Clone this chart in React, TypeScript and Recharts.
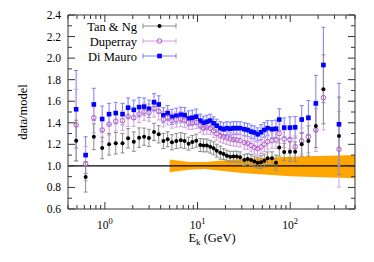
import { ComposedChart, Scatter, Area, XAxis, YAxis, ErrorBar, ReferenceLine } from 'recharts';

// energies (GeV) shared by the three data sets
const ENERGY = [
  0.49, 0.62, 0.76, 0.935, 1.11, 1.31, 1.55, 1.78, 2.05, 2.34, 2.65, 2.99, 3.39, 3.81, 4.28, 4.76, 5.29, 5.9, 6.6,
  7.25, 8.0, 8.77, 9.68, 10.7, 11.6, 12.6, 13.7, 14.9, 16.1, 17.6, 19.1, 20.7, 22.5, 24.4, 26.5, 28.8, 32.0, 34.7,
  37.8, 41.0, 44.5, 48.4, 52.5, 57.0, 63.6, 70.2, 76.2, 86.1, 99.3, 113, 133, 157, 189, 228, 336,
];

const TAN_NG = [
  1.234, 0.897, 1.27, 1.166, 1.2, 1.21, 1.21, 1.256, 1.225, 1.262, 1.271, 1.259, 1.315, 1.293, 1.231, 1.247, 1.219,
  1.231, 1.238, 1.23, 1.206, 1.222, 1.234, 1.194, 1.19, 1.19, 1.178, 1.163, 1.141, 1.123, 1.11, 1.095, 1.085, 1.086,
  1.086, 1.08, 1.055, 1.064, 1.055, 1.04, 1.03, 1.034, 1.048, 1.07, 1.07, 1.03, 1.17, 1.13, 1.132, 1.132, 1.2,
  1.231, 1.37, 1.71, 1.278,
];
const TAN_NG_ERR = [
  0.19, 0.14, 0.12, 0.1, 0.1, 0.1, 0.09, 0.09, 0.09, 0.09, 0.08, 0.08, 0.08, 0.08, 0.07, 0.07, 0.07, 0.07, 0.07, 0.07,
  0.06, 0.06, 0.06, 0.06, 0.06, 0.06, 0.06, 0.06, 0.06, 0.06, 0.05, 0.05, 0.05, 0.05, 0.05, 0.05, 0.05, 0.05, 0.05,
  0.05, 0.05, 0.06, 0.06, 0.06, 0.06, 0.07, 0.08, 0.08, 0.09, 0.09, 0.11, 0.14, 0.2, 0.32, 0.36,
];

const DUPERRAY = [
  1.38, 1.02, 1.447, 1.333, 1.386, 1.414, 1.42, 1.457, 1.447, 1.482, 1.503, 1.494, 1.534, 1.506, 1.432, 1.45, 1.42,
  1.43, 1.435, 1.425, 1.4, 1.4, 1.405, 1.37, 1.35, 1.355, 1.35, 1.325, 1.3, 1.28, 1.27, 1.26, 1.25, 1.245, 1.24,
  1.235, 1.215, 1.21, 1.19, 1.17, 1.16, 1.175, 1.2, 1.225, 1.235, 1.24, 1.3, 1.25, 1.245, 1.178, 1.231, 1.271,
  1.333, 1.633, 1.154,
];
const DUPERRAY_ERR = [
  0.33, 0.16, 0.14, 0.11, 0.1, 0.09, 0.09, 0.09, 0.08, 0.08, 0.08, 0.08, 0.08, 0.08, 0.07, 0.07, 0.07, 0.07, 0.07,
  0.07, 0.06, 0.06, 0.06, 0.06, 0.06, 0.06, 0.06, 0.06, 0.06, 0.06, 0.06, 0.06, 0.06, 0.06, 0.06, 0.06, 0.06, 0.06,
  0.06, 0.06, 0.06, 0.06, 0.07, 0.07, 0.07, 0.08, 0.09, 0.08, 0.09, 0.1, 0.12, 0.15, 0.2, 0.3, 0.35,
];

const DI_MAURO = [
  1.525, 1.1, 1.57, 1.435, 1.48, 1.49, 1.48, 1.54, 1.52, 1.545, 1.55, 1.53, 1.59, 1.57, 1.47, 1.49, 1.455, 1.465,
  1.475, 1.47, 1.44, 1.447, 1.457, 1.42, 1.4, 1.41, 1.42, 1.395, 1.373, 1.35, 1.34, 1.35, 1.345, 1.35, 1.35, 1.35,
  1.34, 1.333, 1.318, 1.31, 1.293, 1.312, 1.333, 1.35, 1.34, 1.345, 1.43, 1.355, 1.355, 1.358, 1.43, 1.447, 1.58,
  1.936, 1.386,
];
const DI_MAURO_ERR = [
  0.36, 0.17, 0.15, 0.12, 0.1, 0.1, 0.1, 0.09, 0.09, 0.09, 0.08, 0.08, 0.08, 0.08, 0.07, 0.07, 0.07, 0.07, 0.07, 0.07,
  0.07, 0.07, 0.07, 0.06, 0.06, 0.06, 0.06, 0.06, 0.06, 0.06, 0.06, 0.06, 0.06, 0.06, 0.06, 0.06, 0.06, 0.06, 0.06,
  0.06, 0.06, 0.07, 0.07, 0.07, 0.08, 0.08, 0.1, 0.09, 0.1, 0.1, 0.13, 0.16, 0.26, 0.35, 0.38,
];

// model uncertainty band
const BAND_E = [5, 8, 12, 30, 100, 500];
const BAND_LO = [0.94, 0.965, 0.97, 0.935, 0.905, 0.885];
const BAND_HI = [1.06, 1.035, 1.035, 1.065, 1.085, 1.1];

const X_TICKS = [0.4, 0.5, 0.6, 0.7, 0.8, 0.9, 1, 2, 3, 4, 5, 6, 7, 8, 9, 10, 20, 30, 40, 50, 60, 70, 80, 90, 100, 200, 300, 400, 500];
const X_MAJOR = [1, 10, 100];
const Y_TICKS = [0.6, 0.7, 0.8, 0.9, 1.0, 1.1, 1.2, 1.3, 1.4, 1.5, 1.6, 1.7, 1.8, 1.9, 2.0, 2.1, 2.2, 2.3, 2.4];

const FONT = 'Liberation Serif';
const AXIS = '#333';

const bandData = BAND_E.map((e, i) => ({ e, band: [BAND_LO[i], BAND_HI[i]] }));
const toPoints = (vals: number[], errs: number[]) => ENERGY.map((e, i) => ({ e, v: vals[i], err: errs[i] }));

const SERIES = [
  { name: 'Tan & Ng', color: '#000000', bar: '#8c8c8c', kind: 'dot' },
  { name: 'Duperray', color: '#b05cc8', bar: '#d49fe0', kind: 'ring' },
  { name: 'Di Mauro', color: '#0000ff', bar: '#7d7dff', kind: 'square' },
];

function Marker({ kind, cx, cy, color }: { kind: string; cx: number; cy: number; color: string }) {
  if (kind === 'square') return <rect x={cx - 2.3} y={cy - 2.3} width={4.6} height={4.6} fill={color} />;
  if (kind === 'ring') return <circle cx={cx} cy={cy} r={2.3} fill="none" stroke={color} strokeWidth={1} />;
  return <circle cx={cx} cy={cy} r={2} fill={color} />;
}

const isMajor = (v: number) => X_MAJOR.includes(v);

function XTickBottom({ x, y, payload }: any) {
  const v = payload.value;
  const major = isMajor(v);
  return (
    <g>
      <line x1={x} x2={x} y1={y} y2={y - (major ? 7 : 4)} stroke={AXIS} />
      {major && (
        <text x={x} y={y + 20} textAnchor="middle" style={{ fontFamily: FONT }} fontSize={11.5} fill="#000">
          10
          <tspan dy={-5} fontSize={8.5}>
            {Math.round(Math.log10(v))}
          </tspan>
        </text>
      )}
    </g>
  );
}

function XTickTop({ x, y, payload }: any) {
  return <line x1={x} x2={x} y1={y} y2={y + (isMajor(payload.value) ? 7 : 4)} stroke={AXIS} />;
}

const isLabelled = (v: number) => Math.round(v * 10) % 2 === 0;

function YTickLeft({ x, y, payload }: any) {
  const v = payload.value;
  const major = isLabelled(v);
  return (
    <g>
      <line x1={x} x2={x + (major ? 7 : 4)} y1={y} y2={y} stroke={AXIS} />
      {major && (
        <text x={x - 7} y={y + 4} textAnchor="end" style={{ fontFamily: FONT }} fontSize={11.5} fill="#000">
          {v.toFixed(1)}
        </text>
      )}
    </g>
  );
}

function YTickRight({ x, y, payload }: any) {
  return <line x1={x} x2={x - (isLabelled(payload.value) ? 7 : 4)} y1={y} y2={y} stroke={AXIS} />;
}

function Legend() {
  return (
    <svg width={374} height={262} style={{ position: 'absolute', left: 0, top: 0, pointerEvents: 'none' }}>
      {SERIES.map((s, i) => {
        const cy = 26 + i * 15;
        return (
          <g key={s.name}>
            <text x={137} y={cy + 4.5} textAnchor="end" style={{ fontFamily: FONT }} fontSize={12.5} fill="#000">
              {s.name}
            </text>
            <line x1={143} x2={176} y1={cy} y2={cy} stroke={s.bar} />
            <line x1={143} x2={143} y1={cy - 2.5} y2={cy + 2.5} stroke={s.bar} />
            <line x1={176} x2={176} y1={cy - 2.5} y2={cy + 2.5} stroke={s.bar} />
            <Marker kind={s.kind} cx={159.5} cy={cy} color={s.color} />
          </g>
        );
      })}
    </svg>
  );
}

export default function App() {
  const data = [toPoints(TAN_NG, TAN_NG_ERR), toPoints(DUPERRAY, DUPERRAY_ERR), toPoints(DI_MAURO, DI_MAURO_ERR)];
  const drawOrder = [2, 1, 0];

  return (
    <div style={{ position: 'absolute', left: 0, top: 0, width: 374, height: 262, background: '#fff', fontFamily: FONT }}>
      <ComposedChart width={374} height={262} data={bandData} margin={{ top: 14, right: 18, bottom: 52, left: 67 }}>
        <XAxis
          dataKey="e"
          type="number"
          scale="log"
          domain={[0.4, 500]}
          allowDataOverflow
          ticks={X_TICKS}
          interval={0}
          height={1}
          tickSize={0}
          tickMargin={0}
          tickLine={false}
          axisLine={{ stroke: AXIS }}
          tick={<XTickBottom />}
        />
        <XAxis
          xAxisId="top"
          orientation="top"
          dataKey="e"
          type="number"
          scale="log"
          domain={[0.4, 500]}
          allowDataOverflow
          ticks={X_TICKS}
          interval={0}
          height={1}
          tickSize={0}
          tickMargin={0}
          tickLine={false}
          axisLine={{ stroke: AXIS }}
          tick={<XTickTop />}
        />
        <YAxis
          type="number"
          domain={[0.6, 2.4]}
          allowDataOverflow
          ticks={Y_TICKS}
          interval={0}
          width={1}
          tickSize={0}
          tickMargin={0}
          tickLine={false}
          axisLine={{ stroke: AXIS }}
          tick={<YTickLeft />}
        />
        <YAxis
          yAxisId="right"
          orientation="right"
          type="number"
          domain={[0.6, 2.4]}
          allowDataOverflow
          ticks={Y_TICKS}
          interval={0}
          width={1}
          tickSize={0}
          tickMargin={0}
          tickLine={false}
          axisLine={{ stroke: AXIS }}
          tick={<YTickRight />}
        />
        <Area dataKey="band" type="linear" fill="#ffa500" fillOpacity={1} stroke="none" isAnimationActive={false} />
        <ReferenceLine y={1} stroke="#000" strokeWidth={1.2} />
        {drawOrder.map((k) => {
          const s = SERIES[k];
          return (
            <Scatter
              key={s.name}
              name={s.name}
              data={data[k]}
              dataKey="v"
              isAnimationActive={false}
              shape={(p: any) => <Marker kind={s.kind} cx={p.cx} cy={p.cy} color={s.color} />}
            >
              <ErrorBar dataKey="err" direction="y" width={2} stroke={s.bar} strokeWidth={1} />
            </Scatter>
          );
        })}
      </ComposedChart>
      <Legend />
      <div
        style={{
          position: 'absolute',
          left: 23,
          top: 112,
          transform: 'translate(-50%, -50%) rotate(-90deg)',
          fontSize: 12.5,
          whiteSpace: 'nowrap',
        }}
      >
        data/model
      </div>
      <div style={{ position: 'absolute', left: 212, top: 239, transform: 'translate(-50%, -50%)', fontSize: 12.5, whiteSpace: 'nowrap' }}>
        E<sub style={{ fontSize: 9 }}>k</sub> (GeV)
      </div>
    </div>
  );
}
